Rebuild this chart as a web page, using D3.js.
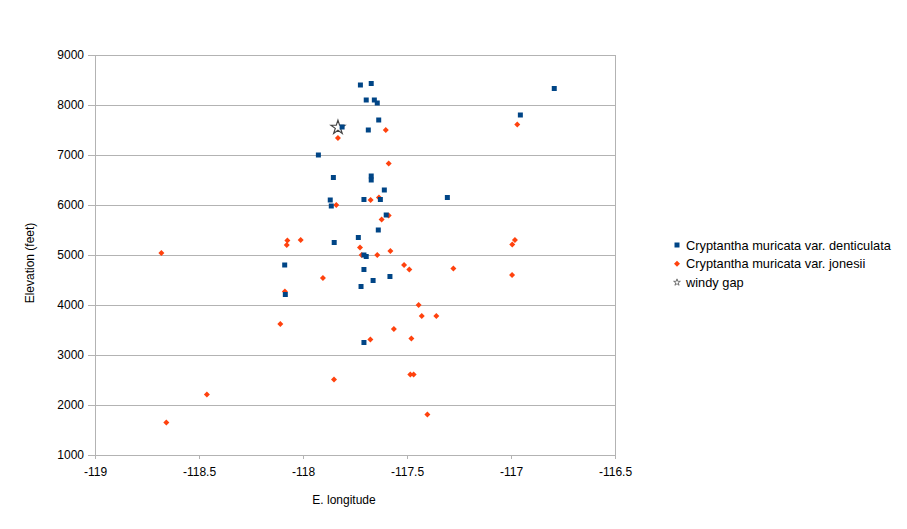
<!DOCTYPE html>
<html>
<head>
<meta charset="utf-8">
<script src="https://cdn.jsdelivr.net/npm/d3@7.9.0/dist/d3.min.js"></script>
<style>
  body { margin: 0; background: #fff; }
  text { font-family: "Liberation Sans", Arial, sans-serif; font-size: 12px; fill: #000; }
</style>
</head>
<body>
<svg id="chart" width="907" height="529"></svg>
<script>
// Cryptantha muricata var. denticulata  [longitude, elevation]
const denticulata = [
  [-117.724, 8400], [-117.672, 8430], [-117.696, 8100], [-117.657, 8100],
  [-117.643, 8040], [-117.636, 7700], [-117.686, 7500], [-117.812, 7560],
  [-117.926, 7000], [-117.854, 6550], [-117.672, 6580], [-117.672, 6500],
  [-117.609, 6300], [-117.869, 6100], [-117.864, 5980], [-117.707, 6110],
  [-117.628, 6110], [-117.600, 5800], [-117.638, 5500], [-117.734, 5350],
  [-117.850, 5250], [-117.707, 5000], [-117.696, 4970], [-117.707, 4710],
  [-118.088, 4800], [-117.582, 4570], [-117.663, 4490], [-117.721, 4370],
  [-118.085, 4210], [-117.707, 3250], [-116.792, 8330], [-116.955, 7800],
  [-117.306, 6150]
];

// Cryptantha muricata var. jonesii
const jonesii = [
  [-117.602, 7500], [-117.832, 7340], [-117.588, 6830], [-117.840, 6000],
  [-117.675, 6100], [-117.635, 6150], [-117.622, 5710], [-117.588, 5790],
  [-118.075, 5290], [-118.078, 5200], [-118.011, 5300], [-117.726, 5150],
  [-117.718, 5000], [-117.643, 5000], [-117.580, 5080], [-117.514, 4800],
  [-117.489, 4710], [-117.904, 4540], [-118.087, 4270], [-117.444, 4000],
  [-117.429, 3780], [-117.359, 3780], [-118.109, 3620], [-117.563, 3520],
  [-117.479, 3330], [-117.676, 3310], [-117.851, 2510], [-117.484, 2610],
  [-117.468, 2610], [-117.402, 1810], [-116.970, 7610], [-116.981, 5300],
  [-116.994, 5210], [-117.277, 4730], [-116.995, 4600], [-118.681, 5040],
  [-118.462, 2210], [-118.657, 1650]
];

// windy gap
const windyGap = [[-117.832, 7550]];

const xTicks = [-119, -118.5, -118, -117.5, -117, -116.5];
const yTicks = [1000, 2000, 3000, 4000, 5000, 6000, 7000, 8000, 9000];

const seriesNames = [
  "Cryptantha muricata var. denticulata",
  "Cryptantha muricata var. jonesii",
  "windy gap"
];

const plotLeft = 95, plotRight = 615, plotTop = 55, plotBottom = 455;
const grid = "#b3b3b3";
const blue = "#004586", orange = "#ff420e";

const svg = d3.select("#chart");

const x = d3.scaleLinear().domain([-119, -116.5]).range([plotLeft, plotRight]);
const y = d3.scaleLinear().domain([1000, 9000]).range([plotBottom, plotTop]);

// horizontal gridlines
svg.append("g")
  .selectAll("line")
  .data(yTicks)
  .join("line")
  .attr("x1", plotLeft).attr("x2", plotRight)
  .attr("y1", d => y(d)).attr("y2", d => y(d))
  .attr("stroke", grid).attr("shape-rendering", "crispEdges");

// right border of plot wall
svg.append("line")
  .attr("x1", plotRight).attr("x2", plotRight).attr("y1", plotTop).attr("y2", plotBottom)
  .attr("stroke", grid).attr("shape-rendering", "crispEdges");

// plain hyphen minus like the original, not d3's unicode minus
const plain = d => String(d);

const xAxis = svg.append("g")
  .attr("transform", `translate(0,${plotBottom})`)
  .call(d3.axisBottom(x).tickValues(xTicks).tickSize(4).tickPadding(8).tickFormat(plain));

const yAxis = svg.append("g")
  .attr("transform", `translate(${plotLeft},0)`)
  .call(d3.axisLeft(y).tickValues(yTicks).tickSize(7).tickPadding(4).tickFormat(plain));

[xAxis, yAxis].forEach(a => {
  a.select(".domain").attr("stroke", grid).attr("shape-rendering", "crispEdges");
  a.selectAll(".tick line").attr("stroke", grid).attr("shape-rendering", "crispEdges");
  a.selectAll("text").attr("fill", "#000")
    .style("font-family", '"Liberation Sans", Arial, sans-serif').style("font-size", "12px");
});

// axis titles
svg.append("text")
  .attr("x", 344).attr("y", 504)
  .attr("text-anchor", "middle")
  .text("E. longitude");

svg.append("text")
  .attr("transform", "translate(34,263) rotate(-90)")
  .attr("text-anchor", "middle")
  .text("Elevation (feet)");

// markers
const squareSym = d3.symbol().type(d3.symbolSquare).size(25);
const diamondSym = d3.symbol().type(d3.symbolSquare).size(18);
const starSym = d3.symbol().type(d3.symbolStar).size(60);

svg.append("g")
  .selectAll("path")
  .data(windyGap)
  .join("path")
  .attr("d", starSym)
  .attr("transform", d => `translate(${x(d[0])},${y(d[1])})`)
  .attr("fill", "#fff").attr("stroke", "#444").attr("stroke-width", 1.2);

svg.append("g")
  .selectAll("path")
  .data(jonesii)
  .join("path")
  .attr("d", diamondSym)
  .attr("transform", d => `translate(${x(d[0])},${y(d[1])}) rotate(45)`)
  .attr("fill", orange);

svg.append("g")
  .selectAll("path")
  .data(denticulata)
  .join("path")
  .attr("d", squareSym)
  .attr("transform", d => `translate(${x(d[0])},${y(d[1])})`)
  .attr("fill", blue);

// legend
const legend = svg.append("g").attr("transform", "translate(677,245)");
const legendSyms = [
  { sym: d3.symbol().type(d3.symbolSquare).size(25), fill: blue, stroke: "none", rot: 0 },
  { sym: d3.symbol().type(d3.symbolSquare).size(18), fill: orange, stroke: "none", rot: 45 },
  { sym: d3.symbol().type(d3.symbolStar).size(14), fill: "#fff", stroke: "#555", rot: 0 }
];

seriesNames.forEach((name, i) => {
  const row = legend.append("g").attr("transform", `translate(0,${i * 18.7})`);
  row.append("path")
    .attr("d", legendSyms[i].sym)
    .attr("transform", `rotate(${legendSyms[i].rot})`)
    .attr("fill", legendSyms[i].fill)
    .attr("stroke", legendSyms[i].stroke)
    .attr("stroke-width", 0.8);
  row.append("text")
    .attr("x", 9).attr("y", 4.5)
    .style("font-size", "12.8px")
    .text(name);
});
</script>
</body>
</html>
